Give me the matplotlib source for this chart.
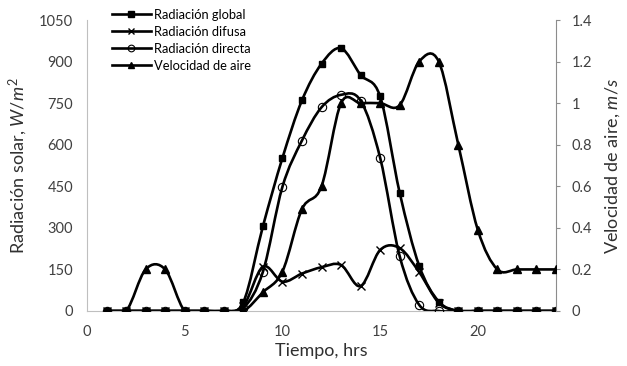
import numpy as np
import matplotlib
matplotlib.use("Agg")
import matplotlib.pyplot as plt
from matplotlib.path import Path
from matplotlib.patches import PathPatch
from matplotlib.lines import Line2D

plt.rcParams['font.family'] = ['Lato', 'DejaVu Sans']
plt.rcParams['mathtext.fontset'] = 'custom'
plt.rcParams['mathtext.it'] = 'Lato:italic'
plt.rcParams['mathtext.rm'] = 'Lato'

# ---- data ----
hours = [1, 2, 3, 4, 5, 6, 7, 8, 9, 10, 11, 12, 13, 14, 15, 16, 17, 18, 19, 20, 21, 22, 23, 24]
rad_global = [0, 0, 0, 0, 0, 0, 0, 32, 305, 552, 760, 892, 948, 852, 774, 427, 163, 34, 0, 0, 0, 0, 0, 0]
rad_difusa = [0, 0, 0, 0, 0, 0, 0, 18, 160, 106, 135, 158, 166, 90, 220, 227, 140, 30, 0, 0, 0, 0, 0, 0]
rad_directa = [0, 0, 0, 0, 0, 0, 0, 10, 141, 448, 615, 735, 780, 759, 553, 198, 22, 0, 0, 0, 0, 0, 0, 0]
vel_aire = [0, 0, 0.2, 0.2, 0, 0, 0, 0, 0.09, 0.19, 0.49, 0.6, 1.0, 1.0, 1.0, 0.99, 1.2, 1.2, 0.8, 0.39, 0.2, 0.2, 0.2, 0.2]

labels = ["Radiación global", "Radiación difusa", "Radiación directa", "Velocidad de aire"]
x_ticks = [0, 5, 10, 15, 20]
y1_ticks = [0, 150, 300, 450, 600, 750, 900, 1050]
y2_ticks = [0, 0.2, 0.4, 0.6, 0.8, 1.0, 1.2, 1.4]
y2_ticklabels = ["0", "0.2", "0.4", "0.6", "0.8", "1", "1.2", "1.4"]


def smooth_path(x, y):
    """Excel-like smoothed line as cubic Bezier path in data coordinates."""
    x = np.asarray(x, float)
    y = np.asarray(y, float)
    n = len(x)
    verts = [(x[0], y[0])]
    codes = [Path.MOVETO]
    for i in range(n - 1):
        ip = max(i - 1, 0)
        inn = min(i + 2, n - 1)
        c1 = (x[i] + (x[i + 1] - x[ip]) / 6.0, y[i] + (y[i + 1] - y[ip]) / 6.0)
        c2 = (x[i + 1] - (x[inn] - x[i]) / 6.0, y[i + 1] - (y[inn] - y[i]) / 6.0)
        verts += [c1, c2, (x[i + 1], y[i + 1])]
        codes += [Path.CURVE4] * 3
    return Path(verts, codes)


fig = plt.figure(figsize=(6.27, 3.66), dpi=100)
ax = fig.add_axes([87 / 627, 1 - 311 / 366, (556 - 87) / 627, (311 - 20) / 366])
ax2 = ax.twinx()

lw = 1.9
col = 'black'

styles = [
    dict(marker='s', ms=5, mfc=col, mec=col),
    dict(marker='x', ms=6, mfc=col, mec=col, mew=1.0),
    dict(marker='o', ms=6, mfc='none', mec=col, mew=0.8),
    dict(marker='^', ms=5.5, mfc=col, mec=col),
]

series = [(ax, rad_global), (ax, rad_difusa), (ax, rad_directa), (ax2, vel_aire)]
handles = []
for (a, ys), st, lab in zip(series, styles, labels):
    a.add_patch(PathPatch(smooth_path(hours, ys), fill=False, lw=lw, ec=col, zorder=2))
    a.plot(hours, ys, linestyle='none', zorder=3, **st)
    hs = dict(st)
    hs['ms'] = st['ms'] * 0.8
    handles.append(Line2D([], [], color=col, lw=lw, **hs))

ax.set_xlim(0, 24)
ax.set_ylim(0, 1050)
ax2.set_ylim(0, 1.4)
ax.set_xticks(x_ticks)
ax.set_yticks(y1_ticks)
ax2.set_yticks(y2_ticks)
ax2.set_yticklabels(y2_ticklabels)

gray = '#bfbfbf'
for a in (ax, ax2):
    a.spines['top'].set_visible(False)
    a.spines['left'].set_color(gray)
    a.spines['bottom'].set_color(gray)
    a.spines['right'].set_color('#8c8c8c')
ax.spines['right'].set_visible(False)
ax2.spines['left'].set_visible(False)
ax2.spines['bottom'].set_visible(False)

tick_color = '#404040'
ax.tick_params(axis='y', length=0, pad=10, labelsize=10.5, labelcolor=tick_color)
ax.tick_params(axis='x', length=0, pad=10, labelsize=10.5, labelcolor=tick_color)
ax2.tick_params(axis='y', length=3, width=0.8, color='#8c8c8c', pad=8, labelsize=10.5, labelcolor=tick_color)

ax.set_xlabel("Tiempo, hrs", fontsize=13, color='#303030', labelpad=3)
ax.set_ylabel("Radiación solar, $W/m^2$", fontsize=13, color='#303030', labelpad=7)
ax2.set_ylabel("Velocidad de aire, $m/s$", fontsize=13, color='#303030', labelpad=8)

fig.legend(handles=handles, labels=labels, loc='upper left',
           bbox_to_anchor=(112 / 627, 1 - 9 / 366), frameon=False,
           fontsize=9.3, handlelength=3.0, handletextpad=0.25,
           labelspacing=0.38, borderpad=0, borderaxespad=0)

fig.savefig("out.png", dpi=100)
